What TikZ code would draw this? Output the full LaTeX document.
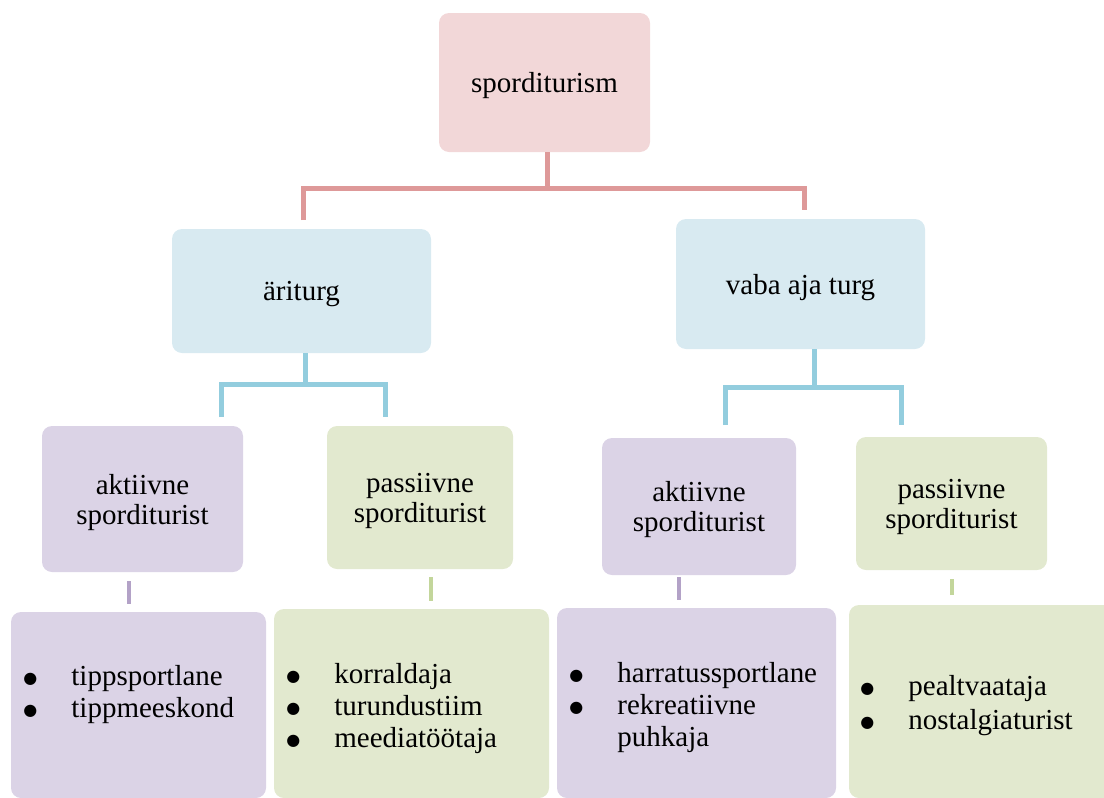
\documentclass[tikz,border=0pt]{standalone}
\usepackage{fontspec}
\setmainfont{Liberation Serif}
\newfontfamily\symfont{DejaVu Sans}
\usepackage{xcolor}
\usepackage{tikz}

\definecolor{pinkfill}{HTML}{F2D7D8}
\definecolor{pinkline}{HTML}{DE9999}
\definecolor{bluefill}{HTML}{D8EAF1}
\definecolor{blueline}{HTML}{93CDDE}
\definecolor{purplefill}{HTML}{DBD3E6}
\definecolor{purpleline}{HTML}{B3A2C7}
\definecolor{greenfill}{HTML}{E2E9CF}
\definecolor{greenline}{HTML}{C3D69B}
\newcommand{\bul}{\makebox[24pt][l]{\raisebox{1.2pt}{\symfont\fontsize{8}{16}\selectfont ●}}}

\begin{document}
\begin{tikzpicture}[x=0.5pt,y=-0.5pt,
		box/.style={rounded corners=5pt,inner sep=0pt,align=center,text depth=0pt,font=\fontsize{14.5}{15}\selectfont},
		pinkbox/.style={box,fill=pinkfill},
		bluebox/.style={box,fill=bluefill},
		purplebox/.style={box,fill=purplefill},
		greenbox/.style={box,fill=greenfill},
		lst/.style={anchor=west,align=left,inner sep=0pt,font=\fontsize{14.5}{16}\selectfont},
		pinkln/.style={draw=pinkline,line width=2.5pt},
		blueln/.style={draw=blueline,line width=2.5pt},
		tick/.style={line width=2.25pt}]
				\useasboundingbox (0,0) rectangle (1104,798);
				\clip (0,0) rectangle (1104,798);
				\node[pinkbox,minimum width=105.5pt,minimum height=69.5pt] (top) at (544.5,82.5) {sporditurism};
				\node[bluebox,minimum width=129.5pt,minimum height=62pt] (ari) at (301.5,291) {äriturg};
				\node[bluebox,minimum width=124.5pt,minimum height=65pt] (vaba) at (800.5,284) {vaba aja turg};
				\node[purplebox,minimum width=100.5pt,minimum height=73pt] (akt1) at (142.5,499) {aktiivne\\sporditurist};
				\node[greenbox,minimum width=93pt,minimum height=71.5pt] (pas1) at (420,497.5) {passiivne\\sporditurist};
				\node[purplebox,minimum width=97pt,minimum height=68.5pt] (akt2) at (699,506.5) {aktiivne\\sporditurist};
				\node[greenbox,minimum width=95.5pt,minimum height=66.5pt] (pas2) at (951.5,503.5) {passiivne\\sporditurist};
				\node[purplebox,minimum width=127.5pt,minimum height=93pt] (rol1) at (138.5,705) {};
				\node[greenbox,minimum width=137.5pt,minimum height=94.5pt] (rol2) at (411.5,703.5) {};
				\node[purplebox,minimum width=139.5pt,minimum height=95pt] (rol3) at (696.5,703) {};
				\node[greenbox,minimum width=133pt,minimum height=96.5pt] (rol4) at (982,701.5) {};
				\node[lst] (list1) at (23,695) {\bul tippsportlane\\\bul tippmeeskond};
				\node[lst] (list2) at (286,709) {\bul korraldaja\\\bul turundustiim\\\bul meediatöötaja};
				\node[lst] (list3) at (569,708) {\bul harratussportlane\\\bul rekreatiivne\\\hspace*{24pt}puhkaja};
				\node[lst] (list4) at (860,706) {\bul pealtvaataja\\[1pt]\bul nostalgiaturist};
				\coordinate (pl) at (303,220);
				\coordinate (pr) at (804,210);
				\draw[pinkln] ([xshift=1.25pt]top.south) -- ++(0,36);
				\draw[pinkln] (pl) -- ++(0,-32) -| (pr);
				\coordinate (bl1) at (221,417);
				\coordinate (br1) at (385,417);
				\draw[blueln] ([xshift=1.75pt]ari.south) -- ++(0,31);
				\draw[blueln] (bl1) -- ++(0,-33) -| (br1);
				\coordinate (bl2) at (725,425);
				\coordinate (br2) at (901,425);
				\draw[blueln] ([xshift=6.75pt]vaba.south) -- ++(0,38);
				\draw[blueln] (bl2) -- ++(0,-38) -| (br2);
				\draw[tick,purpleline] ([xshift=-6.75pt,yshift=-4.5pt]akt1.south) -- ++(0,23);
				\draw[tick,greenline] ([xshift=5.5pt,yshift=-4pt]pas1.south) -- ++(0,24);
				\draw[tick,purpleline] ([xshift=-10pt,yshift=-1pt]akt2.south) -- ++(0,23);
				\draw[tick,greenline] ([xshift=0.25pt,yshift=-4.5pt]pas2.south) -- ++(0,16);
			\end{tikzpicture}
\end{document}
